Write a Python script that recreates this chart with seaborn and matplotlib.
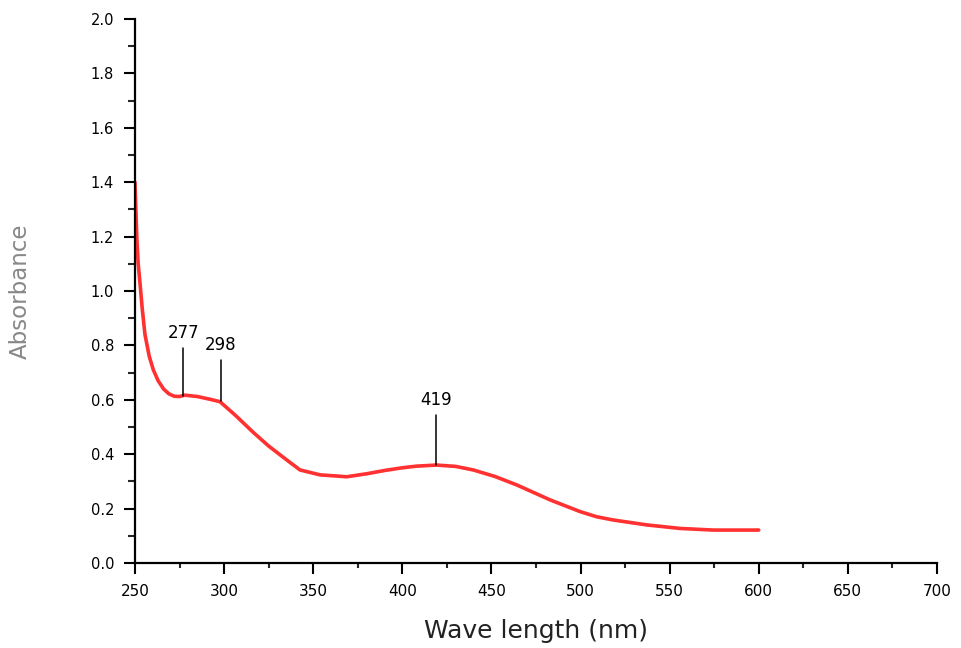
import numpy as np
import pandas as pd
import matplotlib
matplotlib.use("Agg")
import matplotlib.pyplot as plt
import seaborn as sns

# UV-Vis absorption spectrum
wavelength = [250.0, 250.5, 251.0, 251.8, 252.8, 254.0, 255.6, 258.0, 260.3, 263.0,
              266.0, 269.0, 272.0, 275.0, 278.0, 285.0, 292.0, 297.7, 306.0, 316.4,
              325.0, 335.1, 342.6, 353.8, 368.8, 380.0, 390.0, 400.0, 408.0, 419.3,
              430.0, 439.8, 452.0, 464.2, 482.9, 499.7, 509.0, 518.4, 537.1, 555.8,
              574.5, 600.0]
absorbance = [1.400, 1.300, 1.200, 1.100, 1.030, 0.940, 0.840, 0.760, 0.710, 0.670,
              0.640, 0.622, 0.613, 0.612, 0.617, 0.612, 0.602, 0.593, 0.545, 0.480,
              0.430, 0.379, 0.342, 0.324, 0.317, 0.328, 0.340, 0.350, 0.356, 0.360,
              0.355, 0.342, 0.318, 0.287, 0.232, 0.189, 0.170, 0.158, 0.140, 0.127,
              0.121, 0.121]

peak_labels = ["277", "298", "419"]
peak_x = [277, 298, 419]
peak_y = [0.614, 0.595, 0.360]
marker_top = [0.79, 0.745, 0.545]

df = pd.DataFrame({"Wave length (nm)": wavelength, "Absorbance": absorbance})

sns.set_style("ticks")
plt.rcParams["font.family"] = ["DejaVu Sans"]

fig = plt.figure(figsize=(9.62, 6.48), dpi=100)
ax = fig.add_axes([0.1403, 0.1312, 0.8337, 0.8395])

sns.lineplot(data=df, x="Wave length (nm)", y="Absorbance", ax=ax,
             color="#ff1a1a", linewidth=2.6, alpha=0.9)

# peak markers with their wavelength labels
for lab, x, y, top in zip(peak_labels, peak_x, peak_y, marker_top):
    ax.plot([x, x], [y, top], color="black", linewidth=1.1)
    ax.text(x, top + 0.055, lab, ha="center", va="center", fontsize=12,
            color="black")

ax.set_xlim(250, 700)
ax.set_ylim(0, 2.0)
ax.set_xticks(np.arange(250, 701, 50))
ax.set_xticks(np.arange(275, 700, 50), minor=True)
ax.set_yticks(np.arange(0, 2.01, 0.2))
ax.set_yticks(np.arange(0.1, 2.0, 0.2), minor=True)
ax.yaxis.set_major_formatter(matplotlib.ticker.FormatStrFormatter("%.1f"))

for side in ["top", "right"]:
    ax.spines[side].set_visible(False)
for side in ["left", "bottom"]:
    ax.spines[side].set_linewidth(1.6)
    ax.spines[side].set_color("black")

ax.tick_params(axis="both", which="major", direction="out", length=8, width=1.5,
               colors="black")
ax.tick_params(axis="x", which="major", labelsize=11, pad=7)
ax.tick_params(axis="y", which="major", labelsize=10.5, pad=7)
ax.tick_params(axis="x", which="minor", direction="out", length=3.5, width=1.5)
ax.tick_params(axis="y", which="minor", direction="out", length=5, width=1.5)

ax.set_xlabel("Wave length (nm)", fontsize=18, color="#222222")
ax.set_ylabel("Absorbance", fontsize=16.5, color="#888888")
ax.xaxis.set_label_coords(0.5, -0.103)
ax.yaxis.set_label_coords(-0.128, 0.5)

fig.savefig("out.png", dpi=100)
